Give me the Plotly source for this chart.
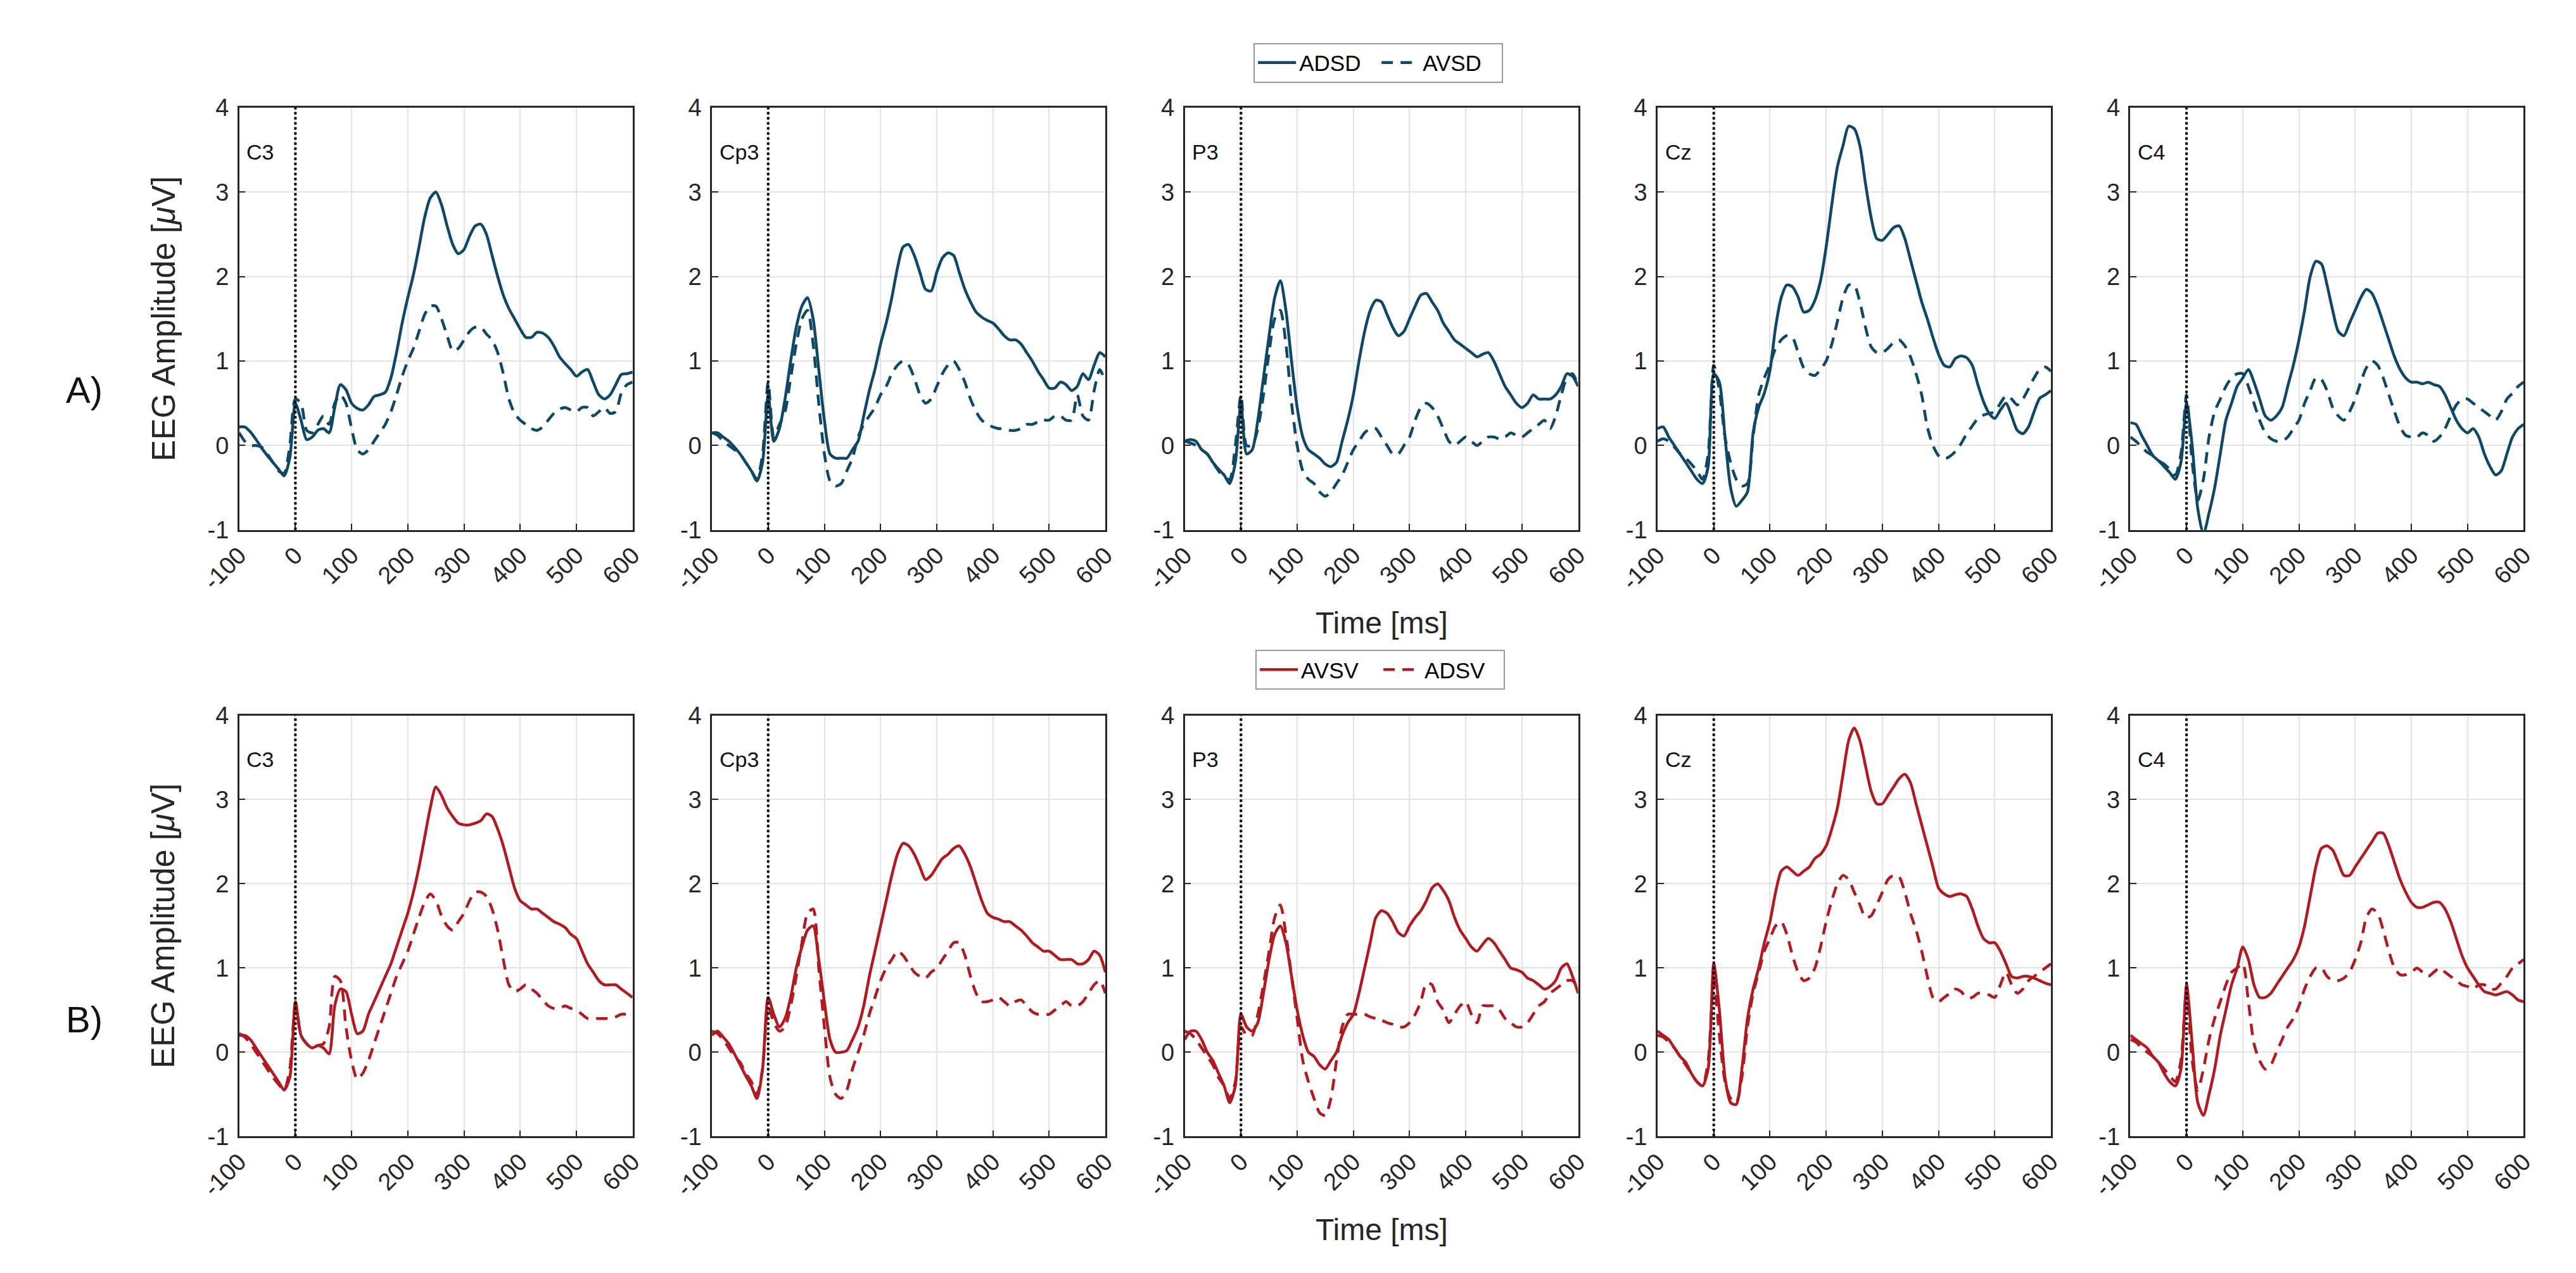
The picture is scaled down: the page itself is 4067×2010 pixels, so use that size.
import plotly.graph_objects as go

# ---------------- data ----------------
TIME = list(range(-100, 601, 10))  # ms sampling grid
CHANNELS = ["C3", "Cp3", "P3", "Cz", "C4"]
X_TICKS = [-100, 0, 100, 200, 300, 400, 500, 600]
X_TICK_TEXT = ["-100", "0", "100", "200", "300", "400", "500", "600"]
Y_TICKS = [-1, 0, 1, 2, 3, 4]
Y_TICK_TEXT = ["-1", "0", "1", "2", "3", "4"]
STIM_ONSET = 0

# Row A: ADSD (solid) / AVSD (dashed)
ADSD_C3 = [0.22, 0.22, 0.16, 0.07, -0.03, -0.12, -0.2, -0.28, -0.36, -0.15,
           0.5, 0.3, 0.07, 0.1, 0.18, 0.2, 0.15, 0.45, 0.72, 0.66,
           0.5, 0.44, 0.42, 0.48, 0.58, 0.6, 0.63, 0.8, 1.1, 1.45,
           1.75, 2.02, 2.35, 2.7, 2.93, 3.0, 2.85, 2.6, 2.38, 2.27,
           2.32, 2.48, 2.6, 2.62, 2.5, 2.25, 2.0, 1.78, 1.62, 1.5,
           1.38, 1.28, 1.28, 1.34, 1.33, 1.28, 1.18, 1.05, 0.97, 0.9,
           0.82, 0.87, 0.9, 0.75, 0.6, 0.55, 0.6, 0.72, 0.84, 0.85,
           0.87]
AVSD_C3 = [0.15, 0.05, 0.0, 0.0, -0.02, -0.1, -0.2, -0.3, -0.33, 0.0,
           0.55, 0.5, 0.18, 0.15, 0.25, 0.35, 0.25, 0.5, 0.6, 0.5,
           0.2, -0.05, -0.1, -0.05, 0.05, 0.15, 0.25, 0.4, 0.6, 0.82,
           1.0, 1.15, 1.35, 1.55, 1.65, 1.65, 1.5, 1.3, 1.12, 1.15,
           1.25, 1.35, 1.4, 1.4, 1.32, 1.25, 1.1, 0.85, 0.55, 0.38,
           0.3, 0.25, 0.2, 0.18, 0.22, 0.3, 0.38, 0.43, 0.45, 0.42,
           0.4, 0.45, 0.45, 0.35, 0.4, 0.45, 0.38, 0.4, 0.62, 0.72,
           0.75]
ADSD_Cp3 = [0.15, 0.15, 0.1, 0.05, -0.02, -0.1, -0.2, -0.3, -0.42, -0.2,
            0.6, 0.05, 0.2, 0.55, 1.0, 1.4, 1.65, 1.75, 1.5, 0.9,
            0.3, -0.1, -0.15, -0.15, -0.15, -0.05, 0.05, 0.35, 0.65, 0.9,
            1.2, 1.45, 1.75, 2.1, 2.35, 2.38, 2.25, 2.05, 1.85, 1.83,
            2.05, 2.22, 2.28, 2.25, 2.05, 1.85, 1.7, 1.58, 1.52, 1.48,
            1.45, 1.38, 1.3, 1.25, 1.25, 1.2, 1.1, 1.0, 0.88, 0.78,
            0.68, 0.68, 0.75, 0.72, 0.65, 0.7, 0.85, 0.78, 0.95, 1.1,
            1.05]
AVSD_Cp3 = [0.15, 0.12, 0.05, 0.0, -0.05, -0.1, -0.2, -0.3, -0.4, -0.1,
            0.75, 0.1, 0.25, 0.4, 0.8, 1.2, 1.5, 1.6, 1.2, 0.5,
            -0.1, -0.42, -0.48, -0.45, -0.3, -0.15, 0.1, 0.25, 0.35, 0.45,
            0.6, 0.7, 0.85, 0.95, 1.0, 0.95, 0.8, 0.6, 0.5, 0.55,
            0.7, 0.85, 0.95, 1.0, 0.9, 0.75, 0.55, 0.4, 0.3, 0.25,
            0.22, 0.2, 0.2, 0.18, 0.18, 0.2, 0.25, 0.25, 0.28, 0.3,
            0.3, 0.35, 0.35, 0.3, 0.3, 0.6, 0.35, 0.3, 0.65, 0.9,
            0.75]
ADSD_P3 = [0.05, 0.07, 0.05, -0.05, -0.1, -0.2, -0.28, -0.35, -0.45, -0.2,
           0.5, -0.1, -0.05, 0.3, 0.8, 1.3, 1.75, 1.95, 1.6, 1.0,
           0.45, 0.1, -0.05, -0.1, -0.15, -0.22, -0.25, -0.2, 0.05, 0.3,
           0.6, 1.0, 1.35, 1.6, 1.72, 1.7, 1.55, 1.4, 1.3, 1.35,
           1.5, 1.65, 1.78, 1.8, 1.7, 1.6, 1.45, 1.35, 1.25, 1.2,
           1.15, 1.1, 1.05, 1.08, 1.1, 1.0, 0.85, 0.7, 0.6, 0.5,
           0.45, 0.5, 0.6, 0.55, 0.55, 0.55, 0.6, 0.7, 0.85, 0.82,
           0.7]
AVSD_P3 = [0.05, 0.03, 0.0, -0.05, -0.1, -0.2, -0.3, -0.38, -0.4, 0.0,
           0.6, 0.0, 0.0, 0.2, 0.6, 1.1, 1.5, 1.6, 1.2, 0.5,
           0.0, -0.3, -0.4, -0.45, -0.55, -0.6, -0.55, -0.45, -0.35, -0.2,
           -0.05, 0.05, 0.15, 0.2, 0.2, 0.1, 0.0, -0.1, -0.1, 0.0,
           0.1, 0.3, 0.45, 0.5, 0.45, 0.35, 0.2, 0.05, 0.0, 0.05,
           0.1, 0.05, 0.0, 0.05, 0.1, 0.1, 0.08, 0.1, 0.15, 0.12,
           0.1, 0.15, 0.2, 0.25, 0.3, 0.2, 0.35, 0.6, 0.8, 0.85,
           0.7]
ADSD_Cz = [0.2, 0.22, 0.1, 0.0, -0.1, -0.2, -0.3, -0.4, -0.45, -0.25,
           0.85, 0.75, 0.1, -0.5, -0.72, -0.65, -0.55, 0.15, 0.45, 0.62,
           0.89, 1.4, 1.75, 1.9, 1.88, 1.76, 1.58, 1.6, 1.72, 1.95,
           2.35, 2.85, 3.3, 3.55, 3.78, 3.75, 3.55, 3.1, 2.7, 2.45,
           2.43, 2.5, 2.58, 2.6, 2.45, 2.2, 1.95, 1.7, 1.5, 1.28,
           1.08, 0.95, 0.93, 1.03, 1.06, 1.04, 0.95, 0.72, 0.52, 0.38,
           0.32, 0.42, 0.5, 0.35, 0.18, 0.14, 0.22, 0.4, 0.56, 0.6,
           0.65]
AVSD_Cz = [0.05, 0.08, 0.05, -0.02, -0.1, -0.15, -0.22, -0.3, -0.4, -0.1,
           0.95, 0.65, 0.1, -0.2, -0.4, -0.48, -0.45, 0.1, 0.6, 0.8,
           0.96, 1.15, 1.25, 1.3, 1.28, 1.1, 0.92, 0.85, 0.83, 0.9,
           1.0, 1.2, 1.47, 1.75, 1.9, 1.9, 1.7, 1.4, 1.17, 1.1,
           1.1, 1.15, 1.22, 1.25, 1.18, 1.05, 0.85, 0.6, 0.22, 0.0,
           -0.12, -0.16, -0.13, -0.07, 0.02, 0.14, 0.23, 0.32, 0.36, 0.38,
           0.4, 0.5, 0.59, 0.55, 0.48, 0.55, 0.67, 0.8, 0.9, 0.93,
           0.88]
ADSD_C4 = [0.27, 0.25, 0.12, 0.0, -0.12, -0.18, -0.25, -0.32, -0.4, -0.2,
           0.5, 0.0, -0.75, -1.05, -0.8, -0.5, -0.1, 0.3, 0.5, 0.7,
           0.8, 0.9, 0.75, 0.55, 0.35, 0.3, 0.35, 0.45, 0.7, 0.95,
           1.25, 1.6, 2.0, 2.18, 2.15, 1.9, 1.6, 1.35, 1.3, 1.45,
           1.6, 1.75, 1.85, 1.8, 1.65, 1.45, 1.25, 1.05, 0.9, 0.8,
           0.75, 0.75, 0.73, 0.75, 0.72, 0.7, 0.6, 0.45, 0.3, 0.2,
           0.15, 0.2, 0.1, -0.1, -0.25, -0.35, -0.3, -0.1, 0.1, 0.2,
           0.25]
AVSD_C4 = [0.1, 0.05, -0.02, -0.08, -0.12, -0.18, -0.22, -0.28, -0.35, -0.1,
           0.6, -0.2, -0.65, -0.4, 0.1, 0.4, 0.55, 0.7, 0.8, 0.85,
           0.85, 0.7, 0.5, 0.3, 0.15, 0.08, 0.05, 0.05, 0.1, 0.2,
           0.3, 0.5, 0.65, 0.8, 0.78, 0.65, 0.45, 0.35, 0.3, 0.4,
           0.55, 0.75, 0.92, 1.0, 0.95, 0.8, 0.6, 0.4, 0.22, 0.12,
           0.1, 0.1, 0.15, 0.12, 0.05, 0.1, 0.2, 0.35, 0.48, 0.55,
           0.55, 0.5, 0.45, 0.4, 0.35, 0.3, 0.4, 0.55, 0.62, 0.7,
           0.75]

# Row B: AVSV (solid) / ADSV (dashed)
AVSV_C3 = [0.2, 0.2, 0.15, 0.05, -0.05, -0.15, -0.25, -0.35, -0.45, -0.3,
           0.6, 0.2, 0.1, 0.05, 0.08, 0.05, -0.02, 0.55, 0.75, 0.72,
           0.45, 0.22, 0.25, 0.45, 0.6, 0.75, 0.9, 1.05, 1.25, 1.45,
           1.65, 1.9, 2.2, 2.55, 2.9, 3.15, 3.05, 2.9, 2.8, 2.72,
           2.7, 2.7, 2.72, 2.75, 2.83, 2.8, 2.65, 2.45, 2.2, 1.95,
           1.8, 1.75, 1.7, 1.7, 1.65, 1.6, 1.55, 1.52, 1.48, 1.4,
           1.35, 1.2, 1.05, 0.95, 0.85, 0.8, 0.8, 0.8, 0.75, 0.7,
           0.65]
ADSV_C3 = [0.22, 0.18, 0.1, 0.0, -0.1, -0.2, -0.3, -0.38, -0.45, -0.2,
           0.55, 0.2, 0.1, 0.05, 0.08, 0.1, 0.3, 0.9, 0.85, 0.3,
           -0.1, -0.32, -0.25, -0.1, 0.1, 0.3, 0.5, 0.7, 0.9, 1.05,
           1.2, 1.4, 1.6, 1.78, 1.88, 1.8, 1.62, 1.5, 1.45, 1.55,
           1.65, 1.8, 1.9, 1.9, 1.85, 1.7, 1.45, 1.1, 0.8, 0.72,
           0.75, 0.8, 0.75, 0.7, 0.62, 0.55, 0.52, 0.52, 0.55, 0.52,
           0.5, 0.45, 0.4, 0.4, 0.4, 0.4, 0.4, 0.42, 0.45, 0.45,
           0.45]
AVSV_Cp3 = [0.2, 0.25, 0.18, 0.1, -0.02, -0.15, -0.28, -0.4, -0.55, -0.2,
            0.65, 0.45, 0.3, 0.4, 0.65, 1.0, 1.25, 1.45, 1.5, 1.1,
            0.6, 0.15, 0.0, 0.0, 0.02, 0.15, 0.3, 0.55, 0.9, 1.2,
            1.5, 1.8, 2.1, 2.35, 2.48, 2.45, 2.35, 2.2, 2.05, 2.1,
            2.2, 2.3, 2.35, 2.42, 2.45, 2.35, 2.2, 2.0, 1.8, 1.65,
            1.6, 1.58, 1.55, 1.55, 1.5, 1.45, 1.38, 1.3, 1.25, 1.2,
            1.2, 1.15, 1.1, 1.1, 1.1, 1.05, 1.05, 1.1, 1.2, 1.15,
            0.95]
ADSV_Cp3 = [0.25, 0.22, 0.15, 0.05, -0.05, -0.12, -0.25, -0.35, -0.5, -0.2,
            0.55, 0.35, 0.25, 0.3, 0.55, 0.9, 1.3, 1.65, 1.7, 1.0,
            0.3, -0.3, -0.5, -0.55, -0.45, -0.2, 0.0, 0.2, 0.45, 0.65,
            0.85, 1.0, 1.1, 1.2, 1.15, 1.05, 0.95, 0.9, 0.88, 0.95,
            1.0, 1.1, 1.2, 1.3, 1.3, 1.15, 0.9, 0.7, 0.6, 0.6,
            0.62, 0.65, 0.6, 0.55, 0.6, 0.62, 0.55, 0.48, 0.45, 0.45,
            0.45, 0.5, 0.55, 0.6, 0.55, 0.55, 0.6, 0.7, 0.8, 0.85,
            0.7]
AVSV_P3 = [0.15, 0.25, 0.25, 0.15, 0.0, -0.1, -0.25, -0.4, -0.6, -0.4,
           0.45, 0.3, 0.25, 0.35, 0.7, 1.1, 1.4, 1.5, 1.3, 0.9,
           0.5, 0.2, 0.0, -0.05, -0.15, -0.2, -0.1, 0.0, 0.2, 0.35,
           0.45, 0.7, 1.0, 1.3, 1.6, 1.68, 1.65, 1.55, 1.42, 1.38,
           1.5, 1.6, 1.68, 1.8, 1.95, 2.0, 1.92, 1.8, 1.6, 1.45,
           1.35, 1.25, 1.2, 1.28, 1.35, 1.3, 1.2, 1.1, 1.0, 0.98,
           0.95, 0.88, 0.85, 0.8, 0.75, 0.78, 0.85, 1.0, 1.05, 0.9,
           0.7]
ADSV_P3 = [0.25, 0.22, 0.15, 0.05, -0.05, -0.15, -0.3, -0.4, -0.55, -0.35,
           0.3, 0.2, 0.2, 0.45, 0.8, 1.2, 1.6, 1.75, 1.4, 0.9,
           0.4, -0.1, -0.35, -0.55, -0.72, -0.75, -0.55, -0.1, 0.3, 0.45,
           0.45, 0.45, 0.45, 0.42, 0.4, 0.38, 0.35, 0.33, 0.3, 0.3,
           0.35, 0.45, 0.6, 0.82, 0.8, 0.6, 0.5, 0.35, 0.45, 0.55,
           0.6, 0.45, 0.35, 0.55, 0.55, 0.55, 0.5, 0.4, 0.35, 0.3,
           0.3, 0.35, 0.45, 0.55, 0.6, 0.7, 0.75, 0.8, 0.85, 0.85,
           0.75]
AVSV_Cz = [0.25, 0.2, 0.15, 0.05, -0.05, -0.12, -0.25, -0.35, -0.4, -0.2,
           1.05, 0.5, -0.3, -0.6, -0.62, -0.2, 0.4, 0.75, 1.0, 1.3,
           1.55, 1.9, 2.15, 2.2, 2.15, 2.1, 2.15, 2.2, 2.3, 2.35,
           2.45, 2.65, 2.9, 3.3, 3.7, 3.85, 3.7, 3.4, 3.1, 2.95,
           2.95, 3.05, 3.15, 3.25, 3.3, 3.2, 2.95, 2.7, 2.45, 2.2,
           1.95, 1.88, 1.85, 1.87, 1.88, 1.85, 1.7, 1.5, 1.35, 1.3,
           1.3, 1.2, 1.05, 0.9, 0.88, 0.9, 0.9, 0.88, 0.85, 0.82,
           0.8]
ADSV_Cz = [0.2, 0.18, 0.12, 0.05, -0.05, -0.15, -0.25, -0.35, -0.4, -0.1,
           0.85, 0.2, -0.35, -0.55, -0.6, -0.3, 0.3, 0.7, 0.95, 1.2,
           1.35, 1.5, 1.55, 1.4, 1.15, 0.95, 0.85, 0.88, 1.0, 1.25,
           1.55, 1.8, 2.0, 2.1, 2.05, 1.9, 1.75, 1.6, 1.62, 1.75,
           1.9, 2.05, 2.1, 2.08, 1.9, 1.65, 1.45, 1.2, 0.9, 0.65,
           0.6, 0.65, 0.7, 0.75, 0.72, 0.65, 0.65, 0.7, 0.7, 0.68,
           0.65, 0.8, 0.95, 0.8, 0.7, 0.75, 0.85, 0.9, 0.95, 1.0,
           1.05]
AVSV_C4 = [0.2, 0.15, 0.1, 0.05, -0.05, -0.12, -0.25, -0.35, -0.4, -0.2,
           0.8, 0.1, -0.6, -0.75, -0.5, -0.2, 0.2, 0.5, 0.8, 1.0,
           1.25, 1.1, 0.8, 0.65, 0.65, 0.7, 0.8, 0.9, 1.0, 1.1,
           1.25, 1.5, 1.85, 2.2, 2.42, 2.45, 2.4, 2.25, 2.1, 2.1,
           2.2, 2.3, 2.4, 2.5, 2.6, 2.6, 2.45, 2.25, 2.05, 1.9,
           1.78, 1.72, 1.72, 1.75, 1.78, 1.78, 1.7, 1.55, 1.35, 1.15,
           1.0, 0.9, 0.8, 0.72, 0.7, 0.68, 0.7, 0.72, 0.68, 0.62,
           0.6]
ADSV_C4 = [0.15, 0.12, 0.05, 0.0, -0.05, -0.12, -0.2, -0.28, -0.35, -0.1,
           0.75, -0.1, -0.45, -0.2, 0.15, 0.4, 0.6, 0.8, 0.95, 1.0,
           1.05, 0.6, 0.1, -0.1, -0.2, -0.15, 0.0, 0.15, 0.3, 0.4,
           0.55, 0.75, 0.9, 1.0, 1.0, 0.9, 0.85, 0.85, 0.88, 0.95,
           1.1, 1.3, 1.6, 1.7, 1.65, 1.45, 1.2, 1.0, 0.92, 0.92,
           0.95, 1.0, 0.95, 0.9, 0.95, 1.0, 0.95, 0.9, 0.85, 0.8,
           0.78, 0.75, 0.8, 0.8, 0.75, 0.75, 0.82, 0.9, 1.0, 1.05,
           1.1]

ROW_A_SOLID = [ADSD_C3, ADSD_Cp3, ADSD_P3, ADSD_Cz, ADSD_C4]
ROW_A_DASH = [AVSD_C3, AVSD_Cp3, AVSD_P3, AVSD_Cz, AVSD_C4]
ROW_B_SOLID = [AVSV_C3, AVSV_Cp3, AVSV_P3, AVSV_Cz, AVSV_C4]
ROW_B_DASH = [ADSV_C3, ADSV_Cp3, ADSV_P3, ADSV_Cz, ADSV_C4]

ROWS = [
    dict(solid=ROW_A_SOLID, dash=ROW_A_DASH, names=("ADSD", "AVSD"),
         color="#0f4866", legend="legend", tag="A)", tag_dy=455),
    dict(solid=ROW_B_SOLID, dash=ROW_B_DASH, names=("AVSV", "ADSV"),
         color="#b01a20", legend="legend2", tag="B)", tag_dy=490),
]

# ---------------- layout geometry (pixels) ----------------
W, H = 4067, 2010
PANEL_X0 = [312, 1074, 1836, 2598, 3360]
PANEL_W = 634
ROW_Y = [(144, 825), (1124, 1803)]
FONT = "Liberation Sans, Arial, Helvetica, sans-serif"
AX_COLOR = "#262626"
GRID_COLOR = "#e3e3e3"


def px_x(v):
    return v / W


def px_y(v):
    return 1 - v / H


fig = go.Figure()
annotations = []
shapes = []

for r, row in enumerate(ROWS):
    top, bot = ROW_Y[r]
    for c, ch in enumerate(CHANNELS):
        idx = r * 5 + c + 1
        xa = "x" if idx == 1 else f"x{idx}"
        ya = "y" if idx == 1 else f"y{idx}"
        fig.add_trace(go.Scatter(
            x=TIME, y=row["solid"][c], mode="lines", name=row["names"][0],
            line=dict(color=row["color"], width=4.5, shape="spline", smoothing=0.7),
            xaxis=xa, yaxis=ya, showlegend=(c == 0), legend=row["legend"],
            legendrank=1))
        fig.add_trace(go.Scatter(
            x=TIME, y=row["dash"][c], mode="lines", name=row["names"][1],
            line=dict(color=row["color"], width=4.5, shape="spline", smoothing=0.7,
                      dash="18px,12px"),
            xaxis=xa, yaxis=ya, showlegend=(c == 0), legend=row["legend"],
            legendrank=2))
        x0 = PANEL_X0[c]
        common = dict(showline=True, mirror=True, linecolor=AX_COLOR, linewidth=2.5,
                      showgrid=True, gridcolor=GRID_COLOR, gridwidth=2, zeroline=False,
                      ticks="inside", ticklen=10, tickwidth=2, tickcolor=AX_COLOR,
                      tickfont=dict(family=FONT, size=38, color=AX_COLOR))
        fig.layout[f"xaxis{idx if idx > 1 else ''}"] = dict(
            domain=[px_x(x0), px_x(x0 + PANEL_W)], anchor=ya, range=[-100, 600],
            tickmode="array", tickvals=X_TICKS, ticktext=X_TICK_TEXT,
            tickangle=-45, **common)
        fig.layout[f"yaxis{idx if idx > 1 else ''}"] = dict(
            domain=[px_y(bot), px_y(top)], anchor=xa, range=[-1, 4],
            tickmode="array", tickvals=Y_TICKS, ticktext=Y_TICK_TEXT,
            ticklabelstandoff=6, **common)
        shapes.append(dict(type="line", xref=xa, yref=f"{ya} domain",
                           x0=STIM_ONSET, x1=STIM_ONSET, y0=0, y1=1,
                           line=dict(color="black", width=4, dash="dot")))
        annotations.append(dict(text=ch, xref="paper", yref="paper",
                                x=px_x(x0 + 10), y=px_y(top + 71), xanchor="left",
                                yanchor="middle", showarrow=False,
                                font=dict(family=FONT, size=34, color="#111111")))
    # row labels
    annotations.append(dict(text="EEG Amplitude [<i>μ</i>V]", xref="paper", yref="paper",
                            x=px_x(190), y=px_y((top + bot) / 2), textangle=-90,
                            xanchor="center", yanchor="middle", showarrow=False,
                            font=dict(family=FONT, size=51, color=AX_COLOR)))
    annotations.append(dict(text=row["tag"], xref="paper", yref="paper",
                            x=px_x(62), y=px_y(top + row["tag_dy"]), xanchor="center",
                            yanchor="middle", showarrow=False,
                            font=dict(family=FONT, size=58, color="#111111")))
    annotations.append(dict(text="Time [ms]", xref="paper", yref="paper",
                            x=px_x(2153), y=px_y(bot + 150), xanchor="center",
                            yanchor="middle", showarrow=False,
                            font=dict(family=FONT, size=48, color=AX_COLOR)))

legend_common = dict(orientation="h", xanchor="center", yanchor="middle",
                     bgcolor="white", bordercolor="#9a9a9a", borderwidth=2,
                     font=dict(family=FONT, size=35, color="black"),
                     entrywidth=120, entrywidthmode="pixels", itemwidth=60,
                     tracegroupgap=0)
fig.update_layout(
    width=W, height=H, margin=dict(l=0, r=0, t=0, b=0),
    paper_bgcolor="white", plot_bgcolor="white",
    annotations=annotations, shapes=shapes,
    legend=dict(x=px_x(2148), y=px_y(71.5), **legend_common),
    legend2=dict(x=px_x(2151), y=px_y(1050.5), **legend_common),
)

fig.write_html("out.html")
